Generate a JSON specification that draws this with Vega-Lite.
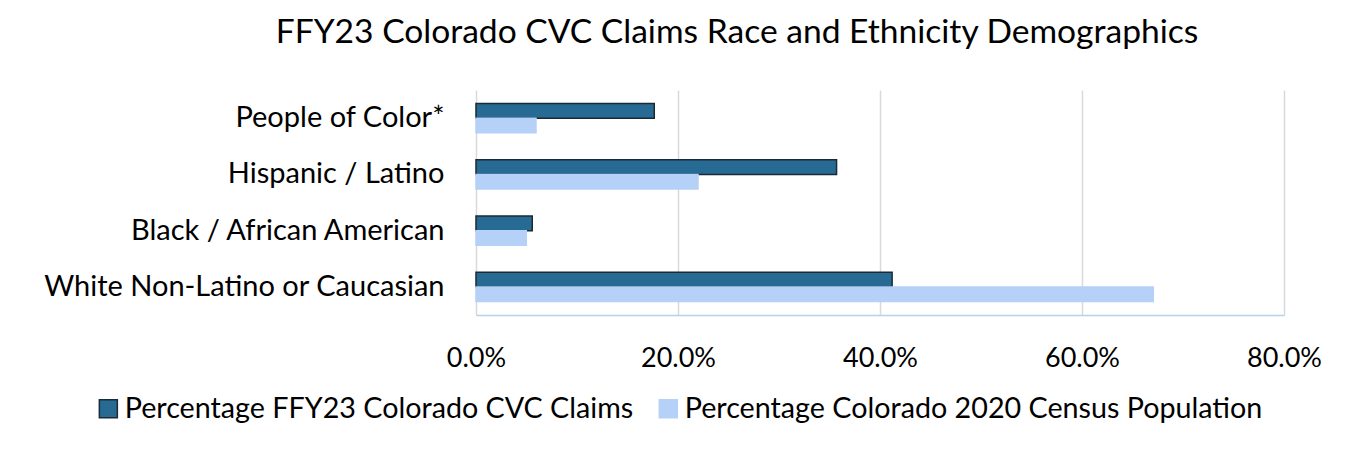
{
  "$schema": "https://vega.github.io/schema/vega-lite/v6.json",
  "width": 808,
  "height": 225,
  "autosize": "none",
  "padding": {"left": 476, "top": 90, "right": 69, "bottom": 154},
  "background": "white",
  "title": {
    "text": "FFY23 Colorado CVC Claims Race and Ethnicity Demographics",
    "font": "Lato",
    "fontSize": 33.6,
    "fontWeight": "normal",
    "color": "#000000",
    "anchor": "middle",
    "frame": "group",
    "dx": -143,
    "offset": 40
  },
  "data": {
    "values": [
      {"group": "People of Color*", "series": "Percentage FFY23 Colorado CVC Claims", "value": 0.1765},
      {"group": "People of Color*", "series": "Percentage Colorado 2020 Census Population", "value": 0.0594},
      {"group": "Hispanic / Latino", "series": "Percentage FFY23 Colorado CVC Claims", "value": 0.357},
      {"group": "Hispanic / Latino", "series": "Percentage Colorado 2020 Census Population", "value": 0.2198},
      {"group": "Black / African American", "series": "Percentage FFY23 Colorado CVC Claims", "value": 0.0557},
      {"group": "Black / African American", "series": "Percentage Colorado 2020 Census Population", "value": 0.0498},
      {"group": "White Non-Latino or Caucasian", "series": "Percentage FFY23 Colorado CVC Claims", "value": 0.412},
      {"group": "White Non-Latino or Caucasian", "series": "Percentage Colorado 2020 Census Population", "value": 0.6706}
    ]
  },
  "mark": {"type": "bar", "strokeWidth": 1.5},
  "encoding": {
    "y": {
      "field": "group",
      "type": "nominal",
      "sort": ["People of Color*", "Hispanic / Latino", "Black / African American", "White Non-Latino or Caucasian"],
      "scale": {"paddingInner": 0.48, "paddingOuter": 0.24},
      "axis": {
        "title": null,
        "ticks": false,
        "domain": false,
        "labelPadding": 32,
        "labelFont": "Lato",
        "labelFontSize": 29,
        "labelColor": "#000000",
        "labelLimit": 500
      }
    },
    "yOffset": {
      "field": "series",
      "type": "nominal",
      "sort": ["Percentage FFY23 Colorado CVC Claims", "Percentage Colorado 2020 Census Population"],
      "scale": {"paddingInner": 0, "paddingOuter": 0}
    },
    "x": {
      "field": "value",
      "type": "quantitative",
      "scale": {"domain": [0, 0.8], "nice": false, "zero": true},
      "axis": {
        "title": null,
        "values": [0, 0.2, 0.4, 0.6, 0.8],
        "format": ".1%",
        "ticks": false,
        "domainColor": "#b4d3e6",
        "domainWidth": 1.5,
        "gridColor": "#d9d9d9",
        "gridWidth": 1.5,
        "labelPadding": 30,
        "labelFont": "Lato",
        "labelFontSize": 27,
        "labelColor": "#000000",
        "labelFlush": false
      }
    },
    "color": {
      "field": "series",
      "type": "nominal",
      "sort": ["Percentage FFY23 Colorado CVC Claims", "Percentage Colorado 2020 Census Population"],
      "scale": {"range": ["#276a93", "#b5d1f7"]},
      "legend": {
        "title": null,
        "orient": "none",
        "legendX": -382,
        "legendY": 304,
        "padding": 0,
        "direction": "horizontal",
        "symbolType": "square",
        "symbolSize": 324,
        "symbolStrokeWidth": 1.5,
        "labelFont": "Lato",
        "labelFontSize": 28.7,
        "labelColor": "#000000",
        "labelLimit": 800,
        "labelOffset": 2,
        "columnPadding": 20,
        "encode": {
          "symbols": {
            "update": {
              "stroke": {"signal": "datum.value === 'Percentage FFY23 Colorado CVC Claims' ? '#1b2b36' : '#b5d1f7'"}
            }
          }
        }
      }
    },
    "stroke": {
      "field": "series",
      "type": "nominal",
      "sort": ["Percentage FFY23 Colorado CVC Claims", "Percentage Colorado 2020 Census Population"],
      "scale": {"range": ["#1b2b36", "#b5d1f7"]},
      "legend": null
    }
  },
  "config": {"view": {"stroke": null}}
}
